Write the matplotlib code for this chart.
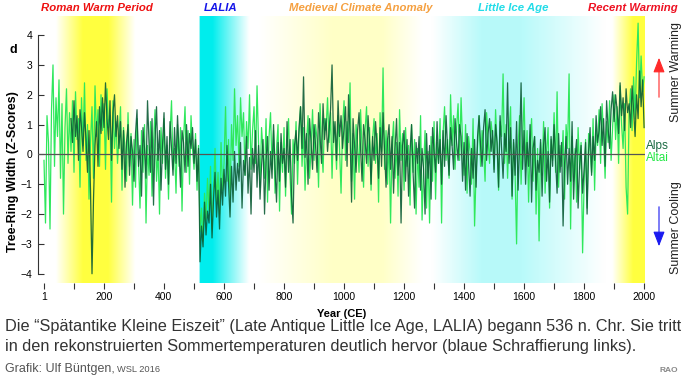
import numpy as np
import matplotlib
matplotlib.use("Agg")
import matplotlib.pyplot as plt
from matplotlib.patches import FancyArrowPatch

plt.rcParams['font.family'] = ['Liberation Sans', 'DejaVu Sans']

# tree-ring width z-scores at 5-year spacing
altai_years = np.arange(1, 2002, 5)
altai = [
    -0.2, -2.3, 1.3, 0.4, -2.5, 1.5, 3.0, -0.4, 1.9, 0.6,
    2.5, -0.8, 1.7, -2.0, 0.9, 2.2, -0.3, 1.4, 0.1, 1.8,
    -0.6, 2.1, 0.5, 1.2, -1.1, 1.9, 0.3, 2.4, -0.2, 1.0,
    -1.5, 0.4, 1.6, -0.8, 2.3, 0.6, 1.5, -0.4, 2.0, 0.8,
    1.7, -0.5, 2.2, 0.9, 1.3, -1.6, 1.8, 0.2, 1.1, -0.3,
    0.6, 1.6, -1.2, 0.9, 0.2, -0.9, 1.4, -0.4, 0.7, -1.7,
    0.5, -1.1, 1.2, -0.2, -1.8, 0.8, -0.6, 1.0, -2.3, 0.3,
    -0.7, 1.1, -1.4, 0.4, 1.5, -0.9, 0.2, -2.0, 0.9, -0.3,
    1.2, -0.8, 0.3, -1.5, 0.7, 1.8, -0.5, 0.2, -1.3, 1.0,
    -0.4, 0.9, -1.9, 0.5, 1.6, -0.6, 0.8, -1.0, 1.3, 0.2,
    -0.5, 0.7, -1.2, 0.3, -2.6, -1.8, -2.9, -1.3, -2.2, -0.8,
    -1.9, -0.4, -2.5, -1.1, 0.2, -1.6, -0.6, -2.0, 0.4, -1.2,
    -0.3, 1.6, -0.9, 0.5, -1.5, 1.0, -0.2, 2.2, 0.3, 1.3,
    -0.4, 1.9, 0.6, 1.4, -0.7, 1.1, 0.2, 2.0, -0.5, 0.8,
    1.6, -0.3, 2.3, 0.4, -1.1, 0.9, 0.1, -0.8, 1.2, -1.6,
    0.6, 1.4, -0.5, 0.8, -1.3, 0.2, 1.0, -1.9, 0.4, -0.6,
    0.9, -1.4, 0.3, 1.2, -0.7, -2.0, 0.5, -0.3, 1.1, -1.0,
    0.7, 1.6, -0.4, 0.9, -1.2, 0.4, 1.3, -0.8, 0.2, 1.5,
    -0.2, 1.0, 0.5, -1.1, 1.7, 0.3, -0.6, 1.2, 0.8, 1.9,
    0.4, 1.4, -0.8, 1.1, 0.6, -0.5, 1.3, 0.2, -1.3, 0.9,
    1.8, -0.2, 1.1, 0.4, 2.4, -0.9, 0.7, -1.5, 1.0, 0.3,
    -0.6, 1.5, 0.2, -1.1, 0.8, 1.6, -0.4, 0.9, -1.2, 0.5,
    1.2, -0.3, 0.7, -1.6, 1.4, 0.1, 2.9, -0.5, 0.8, -1.0,
    0.6, -2.3, 0.3, 1.1, -0.8, 0.4, -1.4, 1.5, -0.2, 0.7,
    -1.2, 0.9, -0.4, 0.3, -1.7, 1.0, -0.6, 0.5, -2.0, 0.2,
    -1.1, 1.3, -2.2, -0.5, 0.8, -1.8, 0.1, -2.3, 0.6, -0.9,
    1.1, -1.5, 0.4, -0.3, 1.2, -2.3, 0.7, 1.6, -0.2, 0.5,
    -0.8, 2.0, 0.3, 1.3, -0.5, 0.9, 1.7, -0.2, 1.9, 0.4,
    -0.7, 1.0, -1.3, 0.6, 0.1, -1.0, 1.2, -2.4, -0.6, 0.3,
    1.3, -0.4, 0.8, 0.2, -0.9, 1.4, 0.5, -0.3, 1.1, 0.6,
    -0.5, 1.5, 0.3, -1.2, 1.1, 0.6, 2.7, -0.3, 1.0, -0.8,
    0.7, 1.6, -1.5, 0.4, -0.6, -3.0, 0.2, 1.3, -1.0, 0.5,
    1.9, -0.4, 0.8, -1.6, 0.3, 1.2, -0.9, 0.6, -2.0, 0.2,
    -2.9, 0.4, -0.7, 1.1, -1.3, 0.1, 0.9, -1.8, 0.5, -0.2,
    1.4, -0.6, 2.1, -1.1, 0.3, -0.4, 0.8, -1.5, 1.0, 0.2,
    2.7, -2.5, 0.6, -0.9, 0.2, -1.6, 0.9, -0.5, 0.4, -3.3,
    -1.0, 0.5, -1.8, 0.7, 0.1, -0.6, 1.2, -1.2, 0.8, 0.3,
    1.5, -0.3, 1.7, 0.6, -0.8, 1.1, 0.4, 1.8, -0.2, 0.9,
    2.0, 0.5, 1.6, -0.3, 2.3, 1.0, 0.2, 1.7, -1.1, -2.0,
    1.4, 2.2, 0.8, 2.6, 1.2, 3.1, 4.4, 1.9, 3.3, 2.1,
    2.6,
]

alps_years = np.arange(91, 2002, 5)
alps = [
    1.2, 0.4,
    1.8, 0.6, 1.3, -0.2, 1.5, 0.9, 0.1, 1.4, 0.5, -0.6,
    0.8, -1.2, -4.0, -1.5, 0.3, 1.1, -0.4, 1.6, 0.7, 1.9,
    0.9, 2.4, 1.2, 0.5, 1.8, -0.2, 1.4, 2.0, 0.6, 1.3,
    0.2, 1.1, -0.5, 0.8, -1.1, 0.4, 1.0, -0.7, 0.6, 0.1,
    -0.9, 0.7, 1.5, -0.4, 0.3, -1.4, 0.9, 0.2, -0.8, 1.8,
    0.4, -0.6, 1.2, -1.7, 0.5, 1.6, -0.2, 0.8, -1.2, 0.3,
    1.4, -0.5, 0.6, -1.0, 1.1, 0.2, -0.7, 0.9, -0.3, 1.3,
    0.1, -1.1, 0.8, 0.4, -0.6, 1.0, -0.4, 0.7, 0.2, 0.9,
    -0.3, 0.5, -0.9, 0.2, -3.6, -2.4, -3.1, -1.6, -2.7, -1.9,
    -2.3, -1.0, -2.8, -1.5, -0.6, -2.1, -1.2, -2.5, -0.8, -1.7,
    -0.5, -1.4, 0.3, -1.0, -2.1, -0.4, -1.6, 0.1, -1.2, -0.3,
    -0.9, 0.4, -1.8, -0.2, -0.7, 0.6, -1.3, -0.1, -2.0, 0.2,
    -0.6, 0.8, -1.1, 0.3, -1.5, -0.4, 0.5, -2.0, -0.2, 0.6,
    -1.2, 0.1, -0.8, 1.0, -0.5, -1.6, 0.4, -0.9, 0.7, -0.3,
    0.2, -1.1, 1.1, -0.6, 0.5, -1.4, -2.3, 0.3, 0.8, -0.2,
    0.9, 1.6, 0.2, 2.6, -0.1, 0.7, -1.0, 1.2, 0.4, -0.5,
    1.0, 0.3, -0.6, 1.4, 0.6, -0.3, 1.7, 0.5, 1.2, 0.1,
    0.8, 1.5, 3.0, 0.4, 1.1, -0.2, 1.8, 0.6, 1.3, 0.2,
    0.9, 1.6, -0.4, 2.0, 0.7, -1.6, 1.2, 0.3, -0.6, 0.8,
    1.4, 0.2, -0.9, 1.0, 0.5, -0.3, 1.3, 0.4, -1.0, 0.6,
    -0.2, 1.1, 0.3, -0.8, 0.9, -0.4, 1.4, 0.1, -1.1, 0.5,
    1.0, -0.5, 0.6, -1.3, 0.2, 1.2, -0.7, 0.4, -2.3, 0.3,
    0.8, -0.9, 0.5, -1.4, 0.1, 1.0, -0.6, -1.8, 0.4, -0.3,
    0.6, -1.2, 0.2, -0.5, -2.0, 0.7, -0.8, 0.3, -1.5, 0.9,
    0.1, -0.6, 1.1, -0.3, 0.5, -1.0, 0.8, -0.4, 1.3, 0.2,
    -0.7, 0.9, 0.3, -0.5, 1.2, 0.4, -0.2, 1.0, 0.6, -0.9,
    0.4, -1.2, 0.7, -0.3, -1.4, 0.2, -0.8, 0.5, -1.1, 0.6,
    1.3, 0.3, -0.4, 0.9, 1.5, -0.2, 0.7, 1.2, 0.1, 0.8,
    -0.6, 1.0, 0.4, -1.1, 1.3, 0.2, -0.8, 0.7, 0.1, 2.4,
    -0.3, 0.9, -1.4, 0.5, -0.7, 1.1, -1.2, 0.3, 2.4, -0.5,
    0.8, -1.0, 0.4, -0.4, 1.0, -1.6, 0.2, 0.6, -1.2, -0.2,
    -0.6, 0.5, -1.4, 0.3, 0.9, -0.9, 0.1, -1.6, 0.6, -0.4,
    1.0, -0.2, -1.3, 0.7, -0.6, 0.4, -2.4, -0.3, 0.6, -1.0,
    0.2, -0.9, 1.1, -1.5, -0.1, 0.5, -1.8, -0.4, 0.3, -1.3,
    -0.5, 0.4, -2.0, 0.1, 0.9, -0.7, 0.6, -0.2, 1.3, 0.4,
    0.8, 1.6, 0.3, 1.2, -0.4, 1.8, 0.9, 0.2, 1.5, 2.1,
    1.1, 2.0, 1.5, 0.7, 2.4, 1.3, 1.9, 0.8, 2.2, 1.4,
    1.7, 0.9, 2.3, 1.5, 0.6, 2.0, 1.2, 2.8, 1.6, 2.5,
    0.9,
]

periods = ["Roman Warm Period", "LALIA", "Medieval Climate Anomaly",
           "Little Ice Age", "Recent Warming"]
period_centers = [179, 591, 1058, 1564, 1965]

xticks = np.concatenate([[1], np.arange(100, 2001, 100)])
xticklabels = [str(t) if (t == 1 or t % 200 == 0) else "" for t in xticks]

# background colour bands (year, rgb)
W = (1, 1, 1)
Y1 = (1, 1, 0.25)
CY = (0, 0.93, 0.93)
PY = (1, 1, 0.78)
PC = (0.72, 0.98, 0.98)
stops = [(-30, W), (40, W), (130, Y1), (215, Y1), (305, W), (519, W),
         (520, CY), (562, CY), (685, W), (720, W), (960, PY), (1130, PY),
         (1262, W), (1295, W), (1460, PC), (1590, PC), (1870, W),
         (1895, W), (1965, Y1), (2010, Y1)]

fig = plt.figure(figsize=(6.84, 3.79), dpi=100)
ax = fig.add_axes([38 / 684, 1 - 283 / 379, (645 - 38) / 684, (283 - 16) / 379])

x0, x1 = -19, 2004
y0, y1 = -4.31, 4.64
xs = np.linspace(x0, x1, 2500)
sy = [s[0] for s in stops]
img = np.zeros((1, xs.size, 3))
for c in range(3):
    img[0, :, c] = np.interp(xs, sy, [s[1][c] for s in stops])
ax.imshow(img, extent=[x0, x1, y0, y1], aspect="auto", zorder=0,
          interpolation="bilinear")

ax.plot(altai_years, altai, color="#2fe85c", lw=0.9, zorder=2)
ax.plot(alps_years, alps, color="#0c5c36", lw=0.9, alpha=0.9, zorder=3)
ax.axhline(0, color="#555555", lw=0.9, zorder=4)

ax.set_xlim(x0, x1)
ax.set_ylim(y0, y1)
for s in ["top", "right", "bottom"]:
    ax.spines[s].set_visible(False)
ax.spines["left"].set_bounds(-4, 4)
ax.spines["left"].set_color("#333333")
ax.spines["left"].set_linewidth(0.8)
ax.set_yticks(range(-4, 5))
ax.tick_params(axis="y", direction="in", length=4.3, width=0.8,
               color="#333333", labelsize=7.5, pad=4)
ax.set_xticks(xticks)
ax.set_xticklabels(xticklabels)
ax.tick_params(axis="x", direction="out", length=4.3, width=0.8,
               color="#333333", labelsize=7.5, pad=2)
ax.set_xlabel("Year (CE)", fontsize=8, fontweight="bold", labelpad=5)
ax.set_ylabel("Tree-Ring Width (Z-Scores)", fontsize=9, fontweight="bold")
ax.yaxis.set_label_coords((19 - 38) / 607, (283 - 172) / 267)

title_colors = ["#ee1111", "#1515e8", "#f5a040", "#22dce8", "#ee1122"]
for name, cx, col in zip(periods, period_centers, title_colors):
    ax.text(cx, 1.0 + 8 / 267, name, transform=ax.get_xaxis_transform(),
            ha="center", va="center", fontsize=8.2, fontweight="bold",
            fontstyle="italic", color=col)

fig.text(9 / 684, 1 - 50 / 379, "d", fontsize=9, fontweight="bold",
         ha="left", va="center")

# right-hand legend and arrows
fig.text(676 / 684, 1 - 72 / 379, "Summer Warming", rotation=90,
         fontsize=9, ha="center", va="center", color="#222222")
fig.text(676 / 684, 1 - 228 / 379, "Summer Cooling", rotation=90,
         fontsize=9, ha="center", va="center", color="#222222")
fig.text(646 / 684, 1 - 146 / 379, "Alps", fontsize=8.5, color="#1b6b43",
         ha="left", va="center")
fig.text(646 / 684, 1 - 158 / 379, "Altai", fontsize=8.5, color="#22e844",
         ha="left", va="center")
fig.patches.append(FancyArrowPatch(
    (659 / 684, 1 - 100 / 379), (659 / 684, 1 - 55 / 379),
    transform=fig.transFigure, arrowstyle="-|>,head_length=9,head_width=3.5",
    color="#ff2a2a", lw=0.8, mutation_scale=1))
fig.patches.append(FancyArrowPatch(
    (659 / 684, 1 - 204 / 379), (659 / 684, 1 - 249 / 379),
    transform=fig.transFigure, arrowstyle="-|>,head_length=9,head_width=3.5",
    color="#1a1af0", lw=0.8, mutation_scale=1))

# caption
fig.text(5 / 684, 1 - 327 / 379,
         "Die \u201cSp\u00e4tantike Kleine Eiszeit\u201d (Late Antique Little Ice Age, LALIA) begann 536 n. Chr. Sie tritt",
         fontsize=11.7, color="#333333", ha="left", va="center")
fig.text(5 / 684, 1 - 347 / 379,
         "in den rekonstruierten Sommertemperaturen deutlich hervor (blaue Schraffierung links).",
         fontsize=11.7, color="#333333", ha="left", va="center")
fig.text(5 / 684, 1 - 369 / 379, "Grafik: Ulf B\u00fcntgen,", fontsize=9,
         color="#555555", ha="left", va="center")
fig.text(117 / 684, 1 - 369.5 / 379, "WSL 2016", fontsize=6.7, color="#555555",
         ha="left", va="center")
fig.text(678 / 684, 1 - 370 / 379, "RAO", fontsize=6, fontweight="bold",
         color="#888888", ha="right", va="center")

fig.savefig("out.png", dpi=100)
